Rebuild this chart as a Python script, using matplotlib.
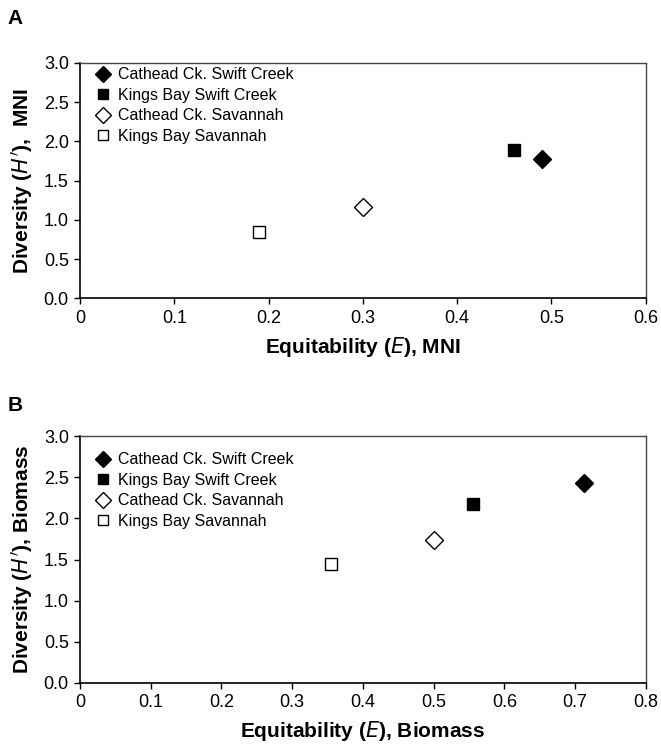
import matplotlib.pyplot as plt

plt.rcParams['font.family'] = ['Liberation Sans', 'DejaVu Sans']

# --- данные ---
series_labels = ['Cathead Ck. Swift Creek', 'Kings Bay Swift Creek',
                 'Cathead Ck. Savannah', 'Kings Bay Savannah']

# панель A (MNI)
mni_equit = [0.49, 0.46, 0.30, 0.19]
mni_div = [1.77, 1.89, 1.16, 0.84]

# панель B (Biomass)
bio_equit = [0.712, 0.555, 0.50, 0.355]
bio_div = [2.43, 2.17, 1.74, 1.44]

x_ticks_a = [0, 0.1, 0.2, 0.3, 0.4, 0.5, 0.6]
x_ticks_b = [0, 0.1, 0.2, 0.3, 0.4, 0.5, 0.6, 0.7, 0.8]
y_ticks = [0.0, 0.5, 1.0, 1.5, 2.0, 2.5, 3.0]

# стиль маркеров: (маркер, заливка, размер на графике, размер в легенде)
styles = [('D', 'black', 9, 8), ('s', 'black', 8, 7),
          ('D', 'white', 9, 8), ('s', 'white', 8, 7)]


def draw_panel(ax, xs, ys, xticks, xlabel, ylabel, leg_y):
    for x, y, lab, (m, fc, ms, _) in zip(xs, ys, series_labels, styles):
        ax.plot([x], [y], linestyle='none', marker=m, markersize=ms,
                markerfacecolor=fc, markeredgecolor='black',
                markeredgewidth=1.0, label=lab)
    ax.set_xlim(xticks[0], xticks[-1])
    ax.set_ylim(0, 3.0)
    ax.set_xticks(xticks)
    ax.set_xticklabels(['0'] + [f'{t:.1f}' for t in xticks[1:]])
    ax.set_yticks(y_ticks)
    ax.set_yticklabels([f'{t:.1f}' for t in y_ticks])
    ax.tick_params(direction='out', length=4, width=1, labelsize=13, pad=4)
    for s in ['left', 'bottom']:
        ax.spines[s].set_linewidth(1.2)
    for s in ['top', 'right']:
        ax.spines[s].set_color('#444444')
        ax.spines[s].set_linewidth(1.0)
    ax.set_xlabel(xlabel, fontsize=15, fontweight='bold', labelpad=6)
    ax.set_ylabel(ylabel, fontsize=15, fontweight='bold', labelpad=6)
    leg = ax.legend(loc='upper left', bbox_to_anchor=(0.004, leg_y),
                    frameon=False, fontsize=11.5,
                    handletextpad=0.45, labelspacing=0.35,
                    borderaxespad=0.4, handlelength=1.0)
    for h, st in zip(leg.legend_handles, styles):
        h.set_markersize(st[3])


fig = plt.figure(figsize=(6.61, 7.48), dpi=100)

ax_a = fig.add_axes([0.121, 0.601, 0.856, 0.315])
draw_panel(ax_a, mni_equit, mni_div, x_ticks_a,
           r'Equitability ($\bf{\it{E}}$), MNI',
           r"Diversity ($\bf{\it{H'}}$),  MNI", 1.036)

ax_b = fig.add_axes([0.121, 0.087, 0.856, 0.330])
draw_panel(ax_b, bio_equit, bio_div, x_ticks_b,
           r'Equitability ($\bf{\it{E}}$), Biomass',
           r"Diversity ($\bf{\it{H'}}$), Biomass", 0.986)

fig.text(0.012, 0.975, 'A', fontsize=15, fontweight='bold', va='center')
fig.text(0.012, 0.458, 'B', fontsize=15, fontweight='bold', va='center')

fig.savefig('out.png', dpi=100)
